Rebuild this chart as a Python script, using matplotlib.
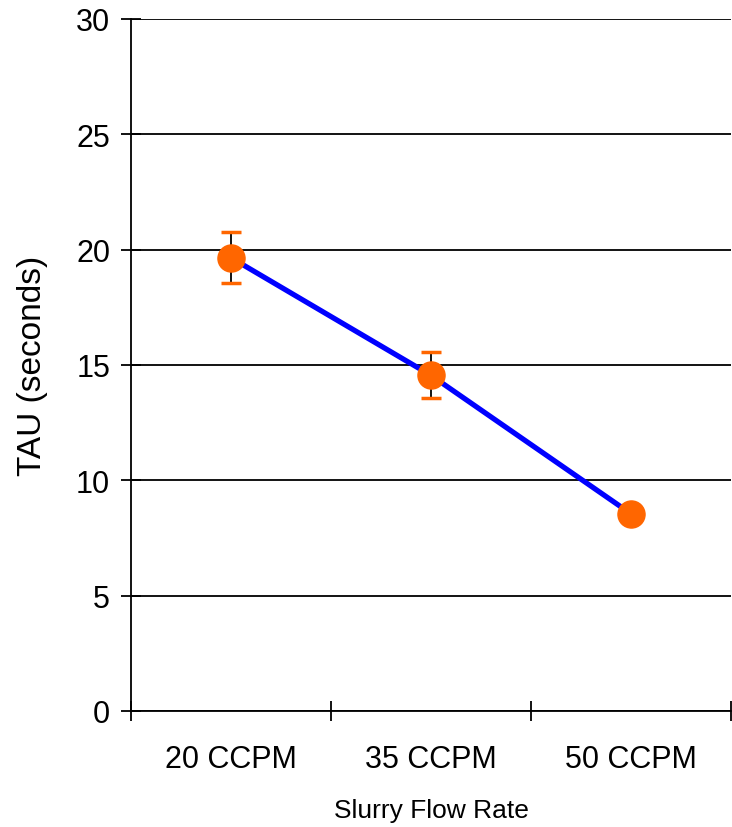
import matplotlib.pyplot as plt

plt.rcParams['font.family'] = ['Liberation Sans', 'DejaVu Sans']

categories = ['20 CCPM', '35 CCPM', '50 CCPM']
tau = [19.65, 14.55, 8.55]
tau_err = [1.1, 1.0, 0.0]

fig = plt.figure(figsize=(7.32, 8.28), dpi=100)
ax = fig.add_axes([131 / 732, 116 / 828, 600 / 732, 692 / 828])

x = [i + 0.5 for i in range(len(categories))]
ax.plot(x, tau, color='#0000FF', linewidth=3.8, zorder=3)

line, caps, bars = ax.errorbar(x, tau, yerr=tau_err, fmt='none', ecolor='black',
                               elinewidth=1.3, capsize=7, capthick=2.5, zorder=2)
for c in caps:
    c.set_markeredgecolor('#FF6600')
    c.set_color('#FF6600')
ax.plot(x, tau, 'o', color='#FF6600', markersize=19.5, zorder=4)

ax.set_xlim(0, 3)
ax.set_ylim(0, 30)
ax.set_yticks(range(0, 31, 5))
ax.set_xticks([0, 1, 2, 3])
ax.set_xticklabels([])
ax.set_xticks(x, minor=True)
ax.set_xticklabels(categories, minor=True)
ax.tick_params(axis='x', which='minor', length=0, pad=24, labelsize=22)
ax.tick_params(axis='x', which='major', direction='inout', length=14, width=1.3)
ax.tick_params(axis='y', direction='inout', length=14, width=1.3, labelsize=22, pad=8)

ax.grid(axis='y', color='black', linewidth=1.3)
ax.set_axisbelow(True)
for s in ['top', 'right']:
    ax.spines[s].set_visible(False)
ax.spines['left'].set_linewidth(1.3)
ax.spines['bottom'].set_linewidth(1.3)

ax.set_ylabel('TAU (seconds)', fontsize=24, labelpad=20)
ax.set_xlabel('Slurry Flow Rate', fontsize=19, labelpad=17)

fig.savefig('out.png', dpi=100)
